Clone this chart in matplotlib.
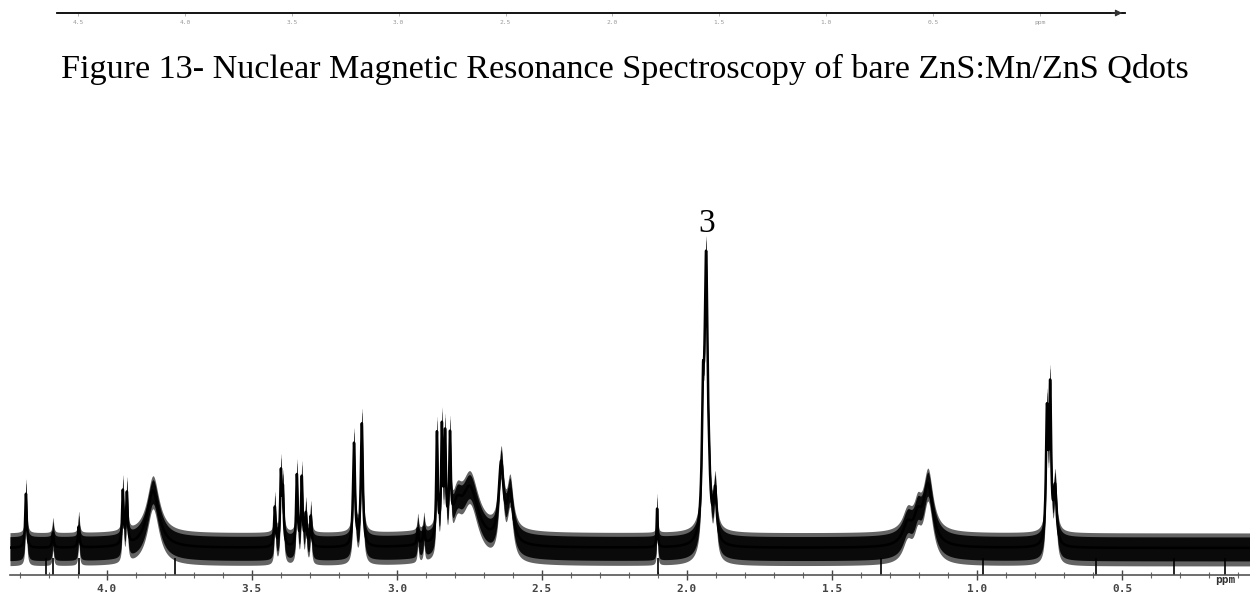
import numpy as np
import matplotlib
matplotlib.use("Agg")
import matplotlib.pyplot as plt
from matplotlib.ticker import MultipleLocator

# peak list: position (ppm), height (arb.), half width (ppm)
peak_ppm = [4.279, 4.186, 4.097, 3.945, 3.931, 3.841,
            3.421, 3.400, 3.393, 3.345, 3.328, 3.314, 3.297,
            3.148, 3.121, 2.928, 2.907,
            2.862, 2.845, 2.834, 2.817, 2.793, 2.748, 2.641, 2.610,
            2.103, 1.945, 1.934, 1.924, 1.936, 1.903,
            1.240, 1.205, 1.169, 0.759, 0.748, 0.731]
peak_height = [54, 15, 21, 53, 50, 57,
               39, 70, 51, 71, 68, 31, 30,
               102, 122, 16, 16,
               105, 105, 95, 90, 28, 56, 75, 48,
               39, 100, 242, 20, 40, 47,
               20, 22, 60, 125, 148, 54]
peak_width = [0.003, 0.003, 0.003, 0.003, 0.003, 0.025,
              0.003, 0.003, 0.003, 0.003, 0.003, 0.003, 0.003,
              0.004, 0.004, 0.003, 0.003,
              0.003, 0.003, 0.003, 0.003, 0.02, 0.035, 0.01, 0.012,
              0.002, 0.004, 0.006, 0.004, 0.012, 0.006,
              0.02, 0.015, 0.02, 0.004, 0.004, 0.006]

# isolated noise spikes (ppm, tip in arb. units)
spike_ppm = [4.211, 4.186, 4.097, 3.766, 2.100, 1.330, 0.980, 0.590, 0.320, 0.145]
spike_tip = [-45, -45, -38, -38, -32, -36, -40, -34, -32, -38]

tick_major = [4.0, 3.5, 3.0, 2.5, 2.0, 1.5, 1.0, 0.5]
tick_labels = ["4.0", "3.5", "3.0", "2.5", "2.0", "1.5", "1.0", "0.5"]
top_labels = ["4.5", "4.0", "3.5", "3.0", "2.5", "2.0", "1.5", "1.0", "0.5", "ppm"]

caption = "Figure 13- Nuclear Magnetic Resonance Spectroscopy of bare ZnS:Mn/ZnS Qdots"

W, H = 1250, 592
fig = plt.figure(figsize=(W / 100, H / 100), dpi=100)

# ---- strip left over from the previous figure at the very top
top = fig.add_axes([57 / W, 1 - 13 / H, (1125 - 57) / W, 1 / H])
top.set_xlim(0, len(top_labels))
top.set_ylim(0, 1)
for s in ["top", "left", "right"]:
    top.spines[s].set_visible(False)
top.spines["bottom"].set_linewidth(1.3)
top.set_yticks([])
top.set_xticks(np.arange(len(top_labels)) + 0.2)
top.set_xticklabels(top_labels, fontsize=4.5, color="#555555", family="DejaVu Sans Mono")
top.tick_params(axis="x", length=2, width=0.5, colors="#999999", pad=3)
top.annotate("", xy=(len(top_labels), 0), xytext=(len(top_labels) - 0.15, 0),
             arrowprops=dict(arrowstyle="-|>", color="#333333", lw=0.8))

# ---- caption
fig.text(0.5, 1 - 69 / H, caption, ha="center", va="center",
         fontsize=24.6, family="Liberation Serif")

# ---- spectrum
ax = fig.add_axes([10 / W, 1 - 575 / H, 1240 / W, 375 / H])
xmax, xmin = 4.334, 0.059
ppm = np.linspace(xmax, xmin, 8000)
signal = np.zeros_like(ppm)
for p, h, w in zip(peak_ppm, peak_height, peak_width):
    signal += h / (1 + ((ppm - p) / w) ** 2)

ax.fill_between(ppm, signal - 18, signal + 15, color="#111111", lw=0, alpha=0.65)
ax.fill_between(ppm, signal - 13, signal + 11, color="#0a0a0a", lw=0)
ax.plot(ppm, signal, color="black", lw=1.8)
ax.vlines(spike_ppm, -10, spike_tip, color="black", lw=1.2)

ax.text(1.934, 316, "3", ha="center", va="baseline", fontsize=24,
        family="Liberation Serif")

ax.set_xlim(xmax, xmin)
ax.set_ylim(-27, 348)
for s in ["top", "left", "right"]:
    ax.spines[s].set_visible(False)
ax.spines["bottom"].set_color("#555555")
ax.spines["bottom"].set_linewidth(1.2)
ax.set_yticks([])
ax.set_xticks(tick_major)
ax.set_xticklabels(tick_labels, fontsize=8, fontweight="bold",
                   family="DejaVu Sans Mono", color="#333333")
ax.xaxis.set_minor_locator(MultipleLocator(0.1))
ax.tick_params(axis="x", which="major", direction="inout", length=7, width=1,
               colors="#444444", pad=3)
ax.tick_params(axis="x", which="minor", direction="inout", length=4, width=0.8,
               colors="#666666")
ax.text(0.145, -27, "ppm", transform=ax.transData, ha="center", va="top",
        fontsize=8, fontweight="bold", family="DejaVu Sans Mono", color="#333333")
ax.patch.set_alpha(0)

fig.savefig("out.png", dpi=100)
